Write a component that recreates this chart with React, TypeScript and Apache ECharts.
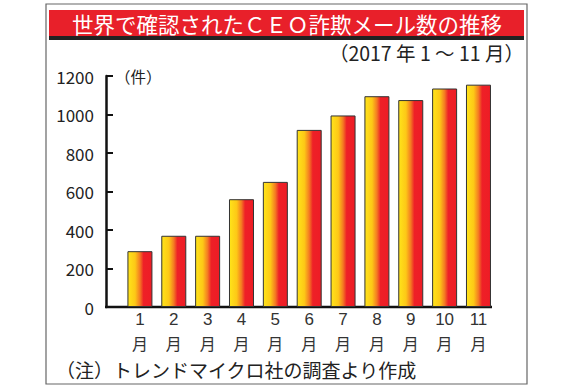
import React, { useEffect, useRef } from "react";
import * as echarts from "echarts";

const months = ["1", "2", "3", "4", "5", "6", "7", "8", "9", "10", "11"];
const monthUnit = months.map(() => "月");
const counts = [290, 370, 370, 560, 650, 920, 995, 1095, 1075, 1135, 1155];
const yTicks = { min: 0, max: 1200, interval: 200 };
const titleText = "世界で確認されたＣＥＯ詐欺メール数の推移";
const subtitleText = "（2017 年 1 ～ 11 月）";
const unitText = "（件）";
const noteText = "（注）トレンドマイクロ社の調査より作成";

const FONT = "'Noto Sans CJK JP', 'Noto Sans', sans-serif";
const NUM_FONT = "'Liberation Sans', 'DejaVu Sans', sans-serif";

export default function App() {
  const ref = useRef<HTMLDivElement>(null);
  useEffect(() => {
    if (!ref.current) return;
    const chart = echarts.init(ref.current, null, { renderer: "svg" });
    const gradient = new echarts.graphic.LinearGradient(0, 0, 1, 0, [
      { offset: 0, color: "#FFE41A" },
      { offset: 0.3, color: "#FDC816" },
      { offset: 0.5, color: "#F47A22" },
      { offset: 0.65, color: "#EE2027" },
      { offset: 1, color: "#EE1C25" },
    ]);
    const xBase = {
      type: "category",
      position: "bottom",
      axisLine: { show: false },
      axisTick: { show: false },
    };
    chart.setOption({
      animation: false,
      backgroundColor: "#ffffff",
      textStyle: { fontFamily: FONT },
      grid: { left: 123, top: 76, width: 372.4, height: 231, containLabel: false },
      xAxis: [
        {
          ...xBase,
          data: months,
          axisLabel: { color: "#333", fontSize: 17, margin: 4, fontFamily: NUM_FONT },
        },
        {
          ...xBase,
          data: monthUnit,
          axisLabel: { color: "#333", fontSize: 16, margin: 28, fontFamily: FONT },
        },
      ],
      yAxis: {
        type: "value",
        min: yTicks.min,
        max: yTicks.max,
        interval: yTicks.interval,
        offset: 17,
        axisLine: { show: true, lineStyle: { color: "#111", width: 2.5 } },
        axisTick: { show: true, inside: true, length: 7, lineStyle: { color: "#111", width: 2 } },
        splitLine: { show: false },
        axisLabel: {
          color: "#222",
          fontSize: 17,
          margin: 12,
          fontFamily: FONT,
          formatter: (v: number) => String(v),
        },
      },
      series: [
        {
          type: "bar",
          xAxisIndex: 0,
          data: counts,
          barWidth: 25,
          itemStyle: { color: gradient, borderColor: "#333", borderWidth: 1 },
        },
      ],
      graphic: [
        {
          type: "rect",
          shape: { x: 46, y: 4, width: 481, height: 380 },
          style: { fill: "none", stroke: "#666", lineWidth: 1.2 },
          z: 0,
        },
        {
          type: "rect",
          shape: { x: 49, y: 10, width: 475, height: 27 },
          style: { fill: "#E8202A" },
        },
        {
          type: "rect",
          shape: { x: 49, y: 36, width: 475, height: 4 },
          style: { fill: "#222" },
        },
        {
          type: "text",
          x: 287,
          y: 23.5,
          style: {
            text: titleText,
            fill: "#fff",
            fontSize: 21.5,
            fontFamily: FONT,
            align: "center",
            verticalAlign: "middle",
          },
        },
        {
          type: "text",
          x: 524,
          y: 52,
          style: {
            text: subtitleText,
            fill: "#222",
            fontSize: 19.5,
            fontFamily: FONT,
            align: "right",
            verticalAlign: "middle",
          },
        },
        {
          type: "text",
          x: 115,
          y: 76,
          style: {
            text: unitText,
            fill: "#222",
            fontSize: 15.5,
            fontFamily: FONT,
            align: "left",
            verticalAlign: "middle",
          },
        },
        {
          type: "line",
          shape: { x1: 105, y1: 307, x2: 492, y2: 307 },
          style: { stroke: "#111", lineWidth: 2.5 },
        },
        {
          type: "text",
          x: 56,
          y: 369,
          style: {
            text: noteText,
            fill: "#222",
            fontSize: 19,
            fontFamily: FONT,
            align: "left",
            verticalAlign: "middle",
          },
        },
      ],
    });
    return () => chart.dispose();
  }, []);
  return (
    <div
      ref={ref}
      style={{ position: "fixed", left: 0, top: 0, width: 570, height: 390 }}
    />
  );
}
